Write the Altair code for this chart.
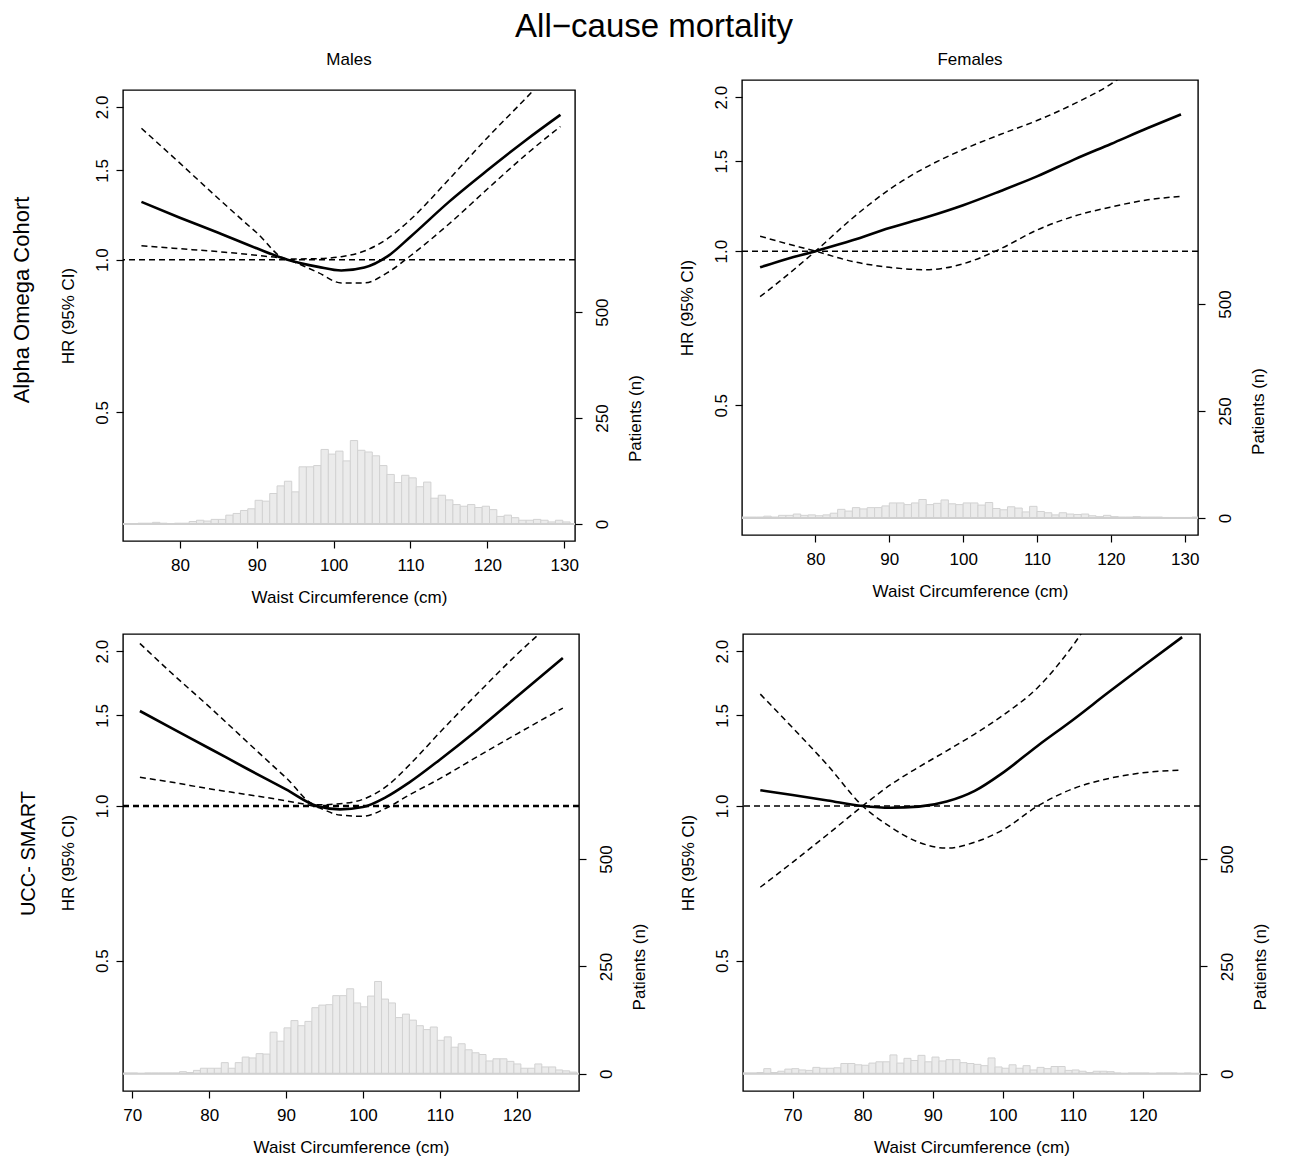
import altair as alt
import pandas as pd

# ---------------- data ----------------
# Alpha Omega Cohort - Males
aom_x  = [75, 80, 85, 90, 94, 98, 101, 104, 107, 110, 115, 120, 125, 129.5]
aom_hr = [1.30, 1.21, 1.13, 1.053, 1.0, 0.968, 0.952, 0.965, 1.015, 1.11, 1.30, 1.50, 1.72, 1.93]
aom_lo = [1.065, 1.051, 1.037, 1.02, 1.0, 0.943, 0.90, 0.90, 0.943, 1.018, 1.176, 1.378, 1.61, 1.83]
aom_hi = [1.815, 1.55, 1.32, 1.13, 1.003, 1.005, 1.014, 1.04, 1.10, 1.20, 1.44, 1.74, 2.08, 2.45]
aom_bin_start, aom_bin_width = 72.63, 0.953
aom_counts = [1, 1, 2, 2, 4, 2, 1, 2, 2, 6, 9, 7, 11, 11, 21, 25, 32, 36, 56, 54, 72, 90, 101, 76,
              135, 135, 138, 176, 165, 172, 149, 197, 174, 170, 161, 138, 117, 98, 115, 109, 88,
              99, 61, 68, 57, 46, 42, 46, 39, 42, 34, 18, 21, 15, 9, 9, 11, 9, 5, 9, 5]

# Alpha Omega Cohort - Females
aof_x  = [72.5, 75, 80, 85, 90, 95, 100, 105, 110, 115, 120, 125, 129.5]
aof_hr = [0.93, 0.955, 1.0, 1.05, 1.11, 1.165, 1.23, 1.31, 1.40, 1.51, 1.62, 1.74, 1.85]
aof_lo = [1.07, 1.045, 1.0, 0.955, 0.93, 0.92, 0.945, 1.01, 1.10, 1.17, 1.22, 1.26, 1.28]
aof_hi = [0.815, 0.87, 1.0, 1.16, 1.32, 1.46, 1.58, 1.69, 1.80, 1.94, 2.12, 2.4, 2.6]
aof_bin_start, aof_bin_width = 70.0, 1.0
aof_counts = [2, 2, 2, 4, 2, 6, 6, 9, 6, 7, 5, 7, 11, 20, 16, 24, 21, 24, 24, 28, 35, 35, 31, 35,
              43, 31, 34, 42, 33, 31, 35, 35, 30, 36, 22, 19, 26, 23, 14, 27, 15, 12, 7, 12, 9,
              8, 9, 5, 3, 6, 3, 2, 2, 3, 2, 2, 2, 1, 1, 1, 1, 2]

# UCC-SMART - Males
usm_x  = [71, 75, 80, 85, 90, 94, 97, 100, 103, 106, 110, 115, 120, 126]
usm_hr = [1.53, 1.42, 1.295, 1.18, 1.077, 1.0, 0.985, 0.995, 1.04, 1.11, 1.23, 1.41, 1.63, 1.94]
usm_lo = [1.137, 1.113, 1.08, 1.052, 1.023, 0.995, 0.96, 0.955, 0.99, 1.05, 1.13, 1.25, 1.38, 1.55]
usm_hi = [2.07, 1.82, 1.56, 1.33, 1.135, 1.005, 1.01, 1.03, 1.09, 1.20, 1.39, 1.66, 1.97, 2.37]
usm_bin_start, usm_bin_width = 68.9, 0.906
usm_counts = [2, 2, 1, 2, 2, 2, 2, 2, 5, 3, 8, 13, 13, 13, 26, 13, 26, 39, 37, 47, 46, 97, 76,
              107, 124, 112, 122, 154, 160, 161, 182, 182, 198, 165, 156, 181, 215, 174, 165,
              131, 139, 125, 112, 103, 109, 78, 86, 62, 70, 56, 49, 45, 30, 35, 35, 29, 23, 13,
              13, 23, 16, 16, 9, 7, 4]

# UCC-SMART - Females
usf_x  = [65.4, 70, 75, 80, 84, 88, 92, 96, 100, 105, 110, 115, 120, 125.6]
usf_hr = [1.073, 1.05, 1.025, 1.0, 0.992, 0.997, 1.02, 1.07, 1.16, 1.31, 1.47, 1.66, 1.87, 2.13]
usf_lo = [1.65, 1.42, 1.20, 1.0, 0.91, 0.85, 0.828, 0.85, 0.898, 1.0, 1.08, 1.13, 1.16, 1.175]
usf_hi = [0.695, 0.777, 0.88, 1.0, 1.10, 1.19, 1.28, 1.38, 1.50, 1.70, 2.05, 2.6, 3.2, 4.0]
usf_bin_start, usf_bin_width = 62.9, 1.0
usf_counts = [2, 2, 3, 12, 3, 6, 11, 12, 9, 8, 15, 13, 13, 14, 24, 24, 21, 20, 25, 28, 28, 44,
              25, 36, 31, 43, 28, 39, 30, 33, 33, 26, 24, 22, 19, 37, 16, 13, 21, 13, 19, 9, 15,
              12, 17, 17, 8, 9, 6, 3, 6, 6, 5, 2, 1, 2, 2, 2, 1, 2, 2, 2, 1, 2, 1]

hr_ticks = [0.5, 1.0, 1.5, 2.0]
n_ticks = [0, 250, 500]
FONT = "Liberation Sans"


def make_panel(x, hr, lo, hi, bstart, bwidth, counts, xdom, xticks, width, height, ref_w=1.5):
    k = len(x)
    curves = pd.DataFrame({"x": x * 3, "hr": hr + lo + hi,
                           "s": ["est"] * k + ["lo"] * k + ["hi"] * k})
    edges = [bstart + i * bwidth for i in range(len(counts))]
    hist = pd.DataFrame({"x0": edges, "x1": [e + bwidth for e in edges], "n": counts,
                         "z": [0] * len(counts)})

    xscale = alt.Scale(domain=xdom, nice=False, zero=False)
    xaxis = alt.Axis(values=xticks, format="d", title="Waist Circumference (cm)",
                     labelPadding=9, titlePadding=16, labelFlush=False)
    nscale = alt.Scale(domain=[-40, 1024], nice=False, zero=False)
    naxis = alt.Axis(orient="right", values=n_ticks, labelAngle=270, labelAlign="center",
                     labelBaseline="top", labelPadding=12, title="Patients (n)",
                     titleAngle=270, titleAlign="center", titleBaseline="middle",
                     titleX=60, titleY=height * (1024 - 250) / 1064.0)
    hrscale = alt.Scale(type="log", domain=[0.279, 2.16], nice=False)
    hraxis = alt.Axis(orient="left", values=hr_ticks, format=".1f", labelAngle=270,
                      labelAlign="center", labelBaseline="bottom", labelPadding=5,
                      title="HR (95% CI)", titlePadding=16)

    bars = alt.Chart(hist).mark_rect(fill="#ebebeb", stroke="#d2d2d2", strokeWidth=1,
                                     clip=True).encode(
        x=alt.X("x0:Q", scale=xscale, axis=xaxis),
        x2="x1:Q",
        y=alt.Y("n:Q", scale=nscale, axis=naxis),
        y2="z:Q",
    )
    base0 = alt.Chart(pd.DataFrame({"n": [0]})).mark_rule(
        color="#d0d0d0", strokeWidth=2).encode(y=alt.Y("n:Q", scale=nscale, axis=naxis))
    hist_layer = alt.layer(bars, base0)

    est = alt.Chart(curves).transform_filter(alt.datum.s == "est").mark_line(
        color="black", strokeWidth=2.6, clip=True, interpolate="monotone").encode(
        x=alt.X("x:Q", scale=xscale, axis=xaxis),
        y=alt.Y("hr:Q", scale=hrscale, axis=hraxis),
    )
    ci = alt.Chart(curves).transform_filter(alt.datum.s != "est").mark_line(
        color="black", strokeWidth=1.5, strokeDash=[6, 4], clip=True,
        interpolate="monotone").encode(
        x=alt.X("x:Q", scale=xscale, axis=xaxis),
        y=alt.Y("hr:Q", scale=hrscale, axis=hraxis),
        detail="s:N",
    )
    ref = alt.Chart(pd.DataFrame({"hr": [1.0]})).mark_rule(
        color="black", strokeWidth=ref_w, strokeDash=[6, 4]).encode(
        y=alt.Y("hr:Q", scale=hrscale, axis=hraxis))
    hr_layer = alt.layer(est, ci, ref)

    return alt.layer(hist_layer, hr_layer).resolve_scale(y="independent").properties(
        width=width, height=height)


def header(text, width):
    return alt.Chart(pd.DataFrame({"a": [0]})).mark_point(opacity=0).properties(
        width=width, height=1,
        view=alt.ViewBackground(stroke="transparent"),
        title=alt.TitleParams(text, fontSize=17, font=FONT, fontWeight="normal", offset=4))


p1 = make_panel(aom_x, aom_hr, aom_lo, aom_hi, aom_bin_start, aom_bin_width, aom_counts,
                [72.6, 131.4], [80, 90, 100, 110, 120, 130], 452, 451)
p2 = make_panel(aof_x, aof_hr, aof_lo, aof_hi, aof_bin_start, aof_bin_width, aof_counts,
                [70.05, 131.8], [80, 90, 100, 110, 120, 130], 456, 455)
p3 = make_panel(usm_x, usm_hr, usm_lo, usm_hi, usm_bin_start, usm_bin_width, usm_counts,
                [68.8, 128.1], [70, 80, 90, 100, 110, 120], 456, 457, ref_w=2.4)
p4 = make_panel(usf_x, usf_hr, usf_lo, usf_hi, usf_bin_start, usf_bin_width, usf_counts,
                [62.93, 128.15], [70, 80, 90, 100, 110, 120], 457, 457)

cell1 = alt.vconcat(header("Males", 452), p1, spacing=10)
cell2 = alt.vconcat(header("Females", 456), p2, spacing=0)

row1 = alt.hconcat(cell1, cell2, spacing=33,
                   title=alt.TitleParams("Alpha Omega Cohort", orient="left", anchor="middle",
                                         fontSize=22, font=FONT, fontWeight="normal",
                                         offset=24, dx=28))
row2 = alt.hconcat(p3, p4, spacing=30,
                   title=alt.TitleParams("UCC- SMART", orient="left", anchor="middle",
                                         fontSize=20, font=FONT, fontWeight="normal",
                                         offset=26, dx=41, dy=7))

chart = alt.vconcat(row1, row2, spacing=27,
                    title=alt.TitleParams("All\u2212cause mortality", fontSize=33, font=FONT,
                                          fontWeight="normal", anchor="middle", offset=6,
                                          dx=14)
                    ).properties(padding={"left": 3, "top": 3, "right": 4, "bottom": 4}
                    ).configure_view(stroke="black", strokeWidth=1.4
                    ).configure_axis(grid=False, domain=False, tickColor="black", tickWidth=1.2,
                                     tickSize=7, labelFont=FONT, labelFontSize=17,
                                     labelColor="black", titleFont=FONT, titleFontSize=17,
                                     titleFontWeight="normal", titleColor="black",
                                     labelOverlap=False
                    ).configure_title(font=FONT, fontWeight="normal", color="black")

chart.save("out.html", embed_options={"renderer": "svg", "actions": False})
